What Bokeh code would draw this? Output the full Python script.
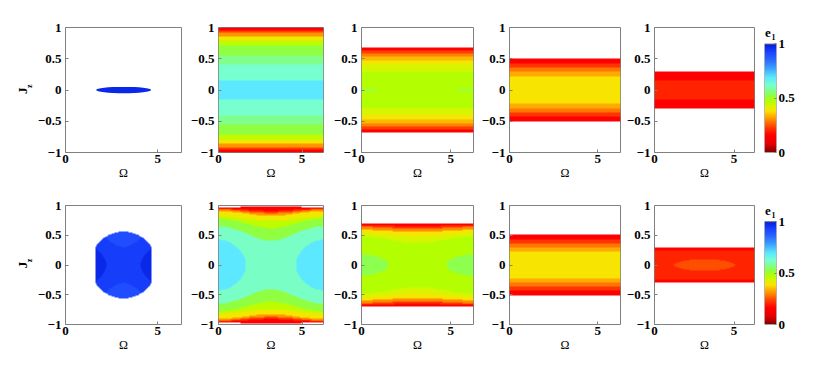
import numpy as np
from bokeh.plotting import figure
from bokeh.models import LinearColorMapper, FixedTicker, ColumnDataSource
from bokeh.layouts import row, column
from bokeh.embed import file_html
from bokeh.resources import INLINE

TWO_PI = 2 * np.pi

# ---------------- tick labels ----------------
OMEGA_TICKS = [0, 5]
OMEGA_TICK_LABELS = ["0", "5"]
JZ_TICKS = [-1, -0.5, 0, 0.5, 1]
JZ_TICK_LABELS = ["\u22121", "\u22120.5", "0", "0.5", "1"]
CB_TICKS = [0, 0.5, 1]
CB_TICK_LABELS = ["0", "0.5", "1"]

# ---------------- data (e1 bands) ----------------
# Banded panels: band values V (from the centre line Jz=0 outwards),
# band boundaries in |Jz| at Omega=0/2pi (E) and at Omega=pi (C)
# (a negative value means the band has closed before reaching that Omega),
# and the outer edge of the filled region.

# top row, panel 1: a thin ellipse
T1_OMEGA = [1.66, 4.64]
T1_JZ = [-0.05, 0.05]
T1_VALUE = 0.97

# top row, panel 2
T2_V = [0.69, 0.62, 0.57, 0.52, 0.46, 0.39, 0.31, 0.23, 0.16]
T2_B = [0.15, 0.41, 0.55, 0.71, 0.79, 0.858, 0.913, 0.945, 1.0]

# top row, panel 3
T3_V = [0.58, 0.47, 0.43, 0.39, 0.34, 0.29, 0.23, 0.16]
T3_E = [0.012, 0.30, 0.40, 0.466, 0.534, 0.587, 0.624]
T3_C = [-0.0248, 0.30, 0.40, 0.466, 0.534, 0.587, 0.624]
T3_DOM = 0.677

# top row, panel 4
T4_V = [0.38, 0.33, 0.28, 0.22, 0.16]
T4_B = [0.22, 0.29, 0.36, 0.43, 0.51]

# top row, panel 5
T5_V = [0.20, 0.16]
T5_B = [0.15, 0.30]

# bottom row, panel 1 (disc)
B1_V = [0.97, 0.93, 0.90]
B1_E = [0.4895, 0.80]
B1_C = [-0.249, 0.30]
B1_DISC_HALF = [1.81, 0.56]     # half-extent in Omega and in Jz
B1_OMEGA = [1.63, 4.64]

# bottom row, panel 2
B2_V = [0.69, 0.61, 0.52, 0.46, 0.39, 0.31, 0.23, 0.16]
B2_E = [0.426, 0.648, 0.774, 0.812, 0.905, 0.93, 0.95]
B2_C = [-0.394, 0.41, 0.62, 0.74, 0.828, 0.87, 0.905]
B2_DOM_E = 0.965
B2_DOM_C = 0.985

# bottom row, panel 3
B3_V = [0.53, 0.47, 0.43, 0.38, 0.30, 0.22, 0.16]
B3_E = [0.18, 0.48, 0.54, 0.59, 0.64, 0.67]
B3_C = [-0.189, 0.37, 0.48, 0.56, 0.61, 0.65]
B3_DOM = 0.695

# bottom row, panel 4
B4_V = [0.38, 0.33, 0.28, 0.22, 0.16]
B4_B = [0.22, 0.29, 0.36, 0.43, 0.51]

# bottom row, panel 5
B5_V = [0.245, 0.20, 0.16]
B5_E = [-0.0693, 0.25]
B5_C = [0.10, 0.25]
B5_DOM = 0.295

# ---------------- colour map (style) ----------------
CMAP_POS = [0.00, 0.08, 0.16, 0.22, 0.28, 0.33, 0.38, 0.43, 0.47, 0.52, 0.57, 0.62, 0.69, 0.78, 0.86, 0.92, 0.97, 1.00]
CMAP_HEX = ["#800000", "#e60000", "#ff0000", "#ff3300", "#ff7700", "#ffaa00", "#f8e400", "#d8f500",
            "#b4ff00", "#90ff40", "#80ff90", "#78ffd0", "#5ce8ff", "#3a9cff", "#2a60ff", "#1a44ff",
            "#0a28e8", "#0018c8"]


def build_palette(n=256):
    pos = np.array(CMAP_POS)
    rgb = np.array([[int(h[i:i + 2], 16) for i in (1, 3, 5)] for h in CMAP_HEX], float)
    t = (np.arange(n) + 0.5) / n
    pal = []
    for tt in t:
        c = [int(round(np.interp(tt, pos, rgb[:, k]))) for k in range(3)]
        pal.append("#%02x%02x%02x" % tuple(c))
    return pal


PALETTE = build_palette()
mapper = LinearColorMapper(palette=PALETTE, low=0, high=1, nan_color="rgba(0,0,0,0)")

NX, NY = 360, 400


def boundary(e, c, cs):
    qe = np.sign(e) * e * e
    qc = np.sign(c) * c * c
    q = (qe + qc) / 2 + (qe - qc) / 2 * cs
    return np.sign(q) * np.sqrt(np.abs(q))


def band_field(V, E, C, dom_e=None, dom_c=None, disc=None, om_lim=None):
    om = (np.arange(NX) + 0.5) / NX * TWO_PI
    jz = -1 + (np.arange(NY) + 0.5) / NY * 2
    O, J = np.meshgrid(om, jz)
    A = np.abs(J)
    cs = np.cos(O)
    idx = np.zeros(A.shape, dtype=int)
    for e, c in zip(E, C):
        idx += (A >= boundary(e, c, cs)).astype(int)
    vals = np.array(V, float)[np.minimum(idx, len(V) - 1)]
    if disc is not None:
        out = ((O - np.pi) / disc[0]) ** 2 + (J / disc[1]) ** 2 > 1
    else:
        out = A > boundary(dom_e, dom_c, cs)
    if om_lim is not None:
        out |= (O < om_lim[0]) | (O > om_lim[1])
    return np.where(out, np.nan, vals)


FONT = "Liberation Serif"
GRAY = "#808080"

# layout (frame widths and borders, pixels)
LAB_W = 33
COL_L = [32, 32, 33, 31, 26]
COL_W = [116, 105, 112, 111, 105]
COL_R = [5, 5, 5, 3, 5]
ROW_T = [27, 23]
ROW_H = [125, 121]
ROW_B = [30, 28]
CB_L, CB_W, CB_R = 5, 12, 40
CB_HEAD = 19


def make_panel(ci, ri):
    L, W, R = COL_L[ci], COL_W[ci], COL_R[ci]
    T, H, B = ROW_T[ri], ROW_H[ri], ROW_B[ri]
    p = figure(width=L + W + R, height=T + H + B, x_range=(0, TWO_PI), y_range=(-1, 1),
               output_backend="svg", toolbar_location=None,
               min_border_left=L, min_border_right=R, min_border_top=T, min_border_bottom=B,
               x_axis_label="\u03a9")
    p.grid.visible = False
    p.outline_line_color = GRAY
    p.outline_line_width = 1
    p.xaxis.ticker = FixedTicker(ticks=OMEGA_TICKS)
    p.xaxis.major_label_overrides = {t: s for t, s in zip(OMEGA_TICKS, OMEGA_TICK_LABELS)}
    p.yaxis.ticker = FixedTicker(ticks=JZ_TICKS)
    p.yaxis.major_label_overrides = {t: s for t, s in zip(JZ_TICKS, JZ_TICK_LABELS)}
    for ax in (p.xaxis[0], p.yaxis[0]):
        ax.axis_line_color = None
        ax.major_tick_in = 3
        ax.major_tick_out = 0
        ax.major_tick_line_color = GRAY
        ax.minor_tick_line_color = None
        ax.major_label_text_font = FONT
        ax.major_label_text_font_style = "bold"
        ax.major_label_text_font_size = "13px"
        ax.major_label_text_color = "black"
    p.yaxis.major_label_standoff = 4
    p.xaxis.major_label_standoff = 2
    p.xaxis.axis_label_standoff = 0
    p.xaxis.axis_label_text_font = FONT
    p.xaxis.axis_label_text_font_style = "normal"
    p.xaxis.axis_label_text_font_size = "12px"
    p.xaxis.axis_label_text_color = "black"
    return p


def make_ylabel(ri):
    T, H, B = ROW_T[ri], ROW_H[ri], ROW_B[ri]
    tot = T + H + B
    p = figure(width=LAB_W, height=tot, x_range=(0, LAB_W), y_range=(0, tot),
               output_backend="svg", toolbar_location=None,
               x_axis_location=None, y_axis_location=None, min_border=0)
    p.grid.visible = False
    p.outline_line_color = None
    mid = B + H / 2
    p.text(x=[22], y=[mid - 2.5], text=["J"], angle=np.pi / 2, text_align="center",
           text_baseline="middle", text_font=FONT, text_font_style="bold",
           text_font_size="13px", text_color="black")
    p.text(x=[28.7], y=[mid + 4], text=["z"], angle=np.pi / 2, text_align="center",
           text_baseline="middle", text_font=FONT, text_font_style="bold",
           text_font_size="8px", text_color="black")
    return p


def add_image(p, arr):
    p.image(image=[arr], x=0, y=-1, dw=TWO_PI, dh=2, color_mapper=mapper)


def make_colorbar(ri):
    T, H, B = ROW_T[ri], ROW_H[ri], ROW_B[ri]
    top = 1 + CB_HEAD / H
    cb = figure(width=CB_L + CB_W + CB_R, height=T + H + B, x_range=(0, 1), y_range=(0, top),
                output_backend="svg", toolbar_location=None, x_axis_location=None,
                y_axis_location="right",
                min_border_left=CB_L, min_border_right=CB_R, min_border_top=T - CB_HEAD,
                min_border_bottom=B)
    cb.grid.visible = False
    cb.outline_line_color = None
    grad = np.linspace(0, 1, 256).reshape(256, 1)
    cb.image(image=[grad], x=0, y=0, dw=1, dh=1, color_mapper=mapper)
    cb.quad(left=[0], right=[1], bottom=[0], top=[1], fill_color=None, line_color=GRAY, line_width=1)
    ax = cb.yaxis[0]
    ax.ticker = FixedTicker(ticks=CB_TICKS)
    ax.major_label_overrides = {t: s for t, s in zip(CB_TICKS, CB_TICK_LABELS)}
    ax.axis_line_color = None
    ax.major_tick_in = 2
    ax.major_tick_out = 0
    ax.major_tick_line_color = GRAY
    ax.minor_tick_line_color = None
    ax.major_label_standoff = 2
    ax.major_label_text_font = FONT
    ax.major_label_text_font_style = "bold"
    ax.major_label_text_font_size = "13px"
    ax.major_label_text_color = "black"
    cb.text(x=[3.5 / CB_W], y=[1 + 13 / H], text=["e"], text_align="center", text_baseline="middle",
            text_font=FONT, text_font_style="bold", text_font_size="13px", text_color="black")
    cb.text(x=[9 / CB_W], y=[1 + 8 / H], text=["1"], text_align="center", text_baseline="middle",
            text_font=FONT, text_font_style="bold", text_font_size="8px", text_color="black")
    return cb


# ---- top row ----
l1 = make_ylabel(0)
t1 = make_panel(0, 0)
src = ColumnDataSource(dict(x=[(T1_OMEGA[0] + T1_OMEGA[1]) / 2], y=[(T1_JZ[0] + T1_JZ[1]) / 2],
                            w=[T1_OMEGA[1] - T1_OMEGA[0]], h=[T1_JZ[1] - T1_JZ[0]], v=[T1_VALUE]))
t1.ellipse(x="x", y="y", width="w", height="h", source=src,
           fill_color={"field": "v", "transform": mapper}, line_color=None)

t2 = make_panel(1, 0)
add_image(t2, band_field(T2_V, T2_B[:-1], T2_B[:-1], T2_B[-1], T2_B[-1]))
t3 = make_panel(2, 0)
add_image(t3, band_field(T3_V, T3_E, T3_C, T3_DOM, T3_DOM))
t4 = make_panel(3, 0)
add_image(t4, band_field(T4_V, T4_B[:-1], T4_B[:-1], T4_B[-1], T4_B[-1]))
t5 = make_panel(4, 0)
add_image(t5, band_field(T5_V, T5_B[:-1], T5_B[:-1], T5_B[-1], T5_B[-1]))
cb1 = make_colorbar(0)

# ---- bottom row ----
l2 = make_ylabel(1)
b1 = make_panel(0, 1)
add_image(b1, band_field(B1_V, B1_E, B1_C, disc=B1_DISC_HALF, om_lim=B1_OMEGA))
b2 = make_panel(1, 1)
add_image(b2, band_field(B2_V, B2_E, B2_C, B2_DOM_E, B2_DOM_C))
b3 = make_panel(2, 1)
add_image(b3, band_field(B3_V, B3_E, B3_C, B3_DOM, B3_DOM))
b4 = make_panel(3, 1)
add_image(b4, band_field(B4_V, B4_B[:-1], B4_B[:-1], B4_B[-1], B4_B[-1]))
b5 = make_panel(4, 1)
add_image(b5, band_field(B5_V, B5_E, B5_C, B5_DOM, B5_DOM))
cb2 = make_colorbar(1)

layout = column(row(l1, t1, t2, t3, t4, t5, cb1), row(l2, b1, b2, b3, b4, b5, cb2))

open("out.html", "w").write(file_html(layout, INLINE))
